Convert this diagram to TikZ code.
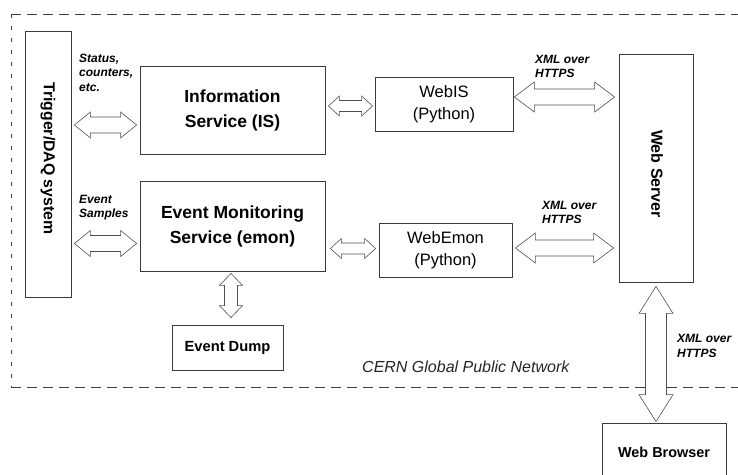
\documentclass[tikz,border=0pt]{standalone}
\usepackage{fontspec}
\setmainfont{Liberation Sans}
\usetikzlibrary{calc}
\definecolor{boxc}{HTML}{3A3A3A}
\definecolor{arrc}{HTML}{505050}
\definecolor{dashc}{HTML}{404040}
\newcommand{\hdarr}[5]{%
\draw[blockarrow] (#1) -- ($(#1)+(#5,-#4)$) -- ($(#1)+(#5,-#3)$) -- ($(#2)+(-#5,-#3)$) -- ($(#2)+(-#5,-#4)$) -- (#2) -- ($(#2)+(-#5,#4)$) -- ($(#2)+(-#5,#3)$) -- ($(#1)+(#5,#3)$) -- ($(#1)+(#5,#4)$) -- cycle;}
\newcommand{\vdarr}[5]{%
\draw[blockarrow] (#1) -- ($(#1)+(#4,#5)$) -- ($(#1)+(#3,#5)$) -- ($(#2)+(#3,-#5)$) -- ($(#2)+(#4,-#5)$) -- (#2) -- ($(#2)+(-#4,-#5)$) -- ($(#2)+(-#3,-#5)$) -- ($(#1)+(-#3,#5)$) -- ($(#1)+(-#4,#5)$) -- cycle;}
\begin{document}
\begin{tikzpicture}[x=1pt,y=-1pt,
 box/.style={draw=boxc, line width=0.8pt, fill=white, inner sep=0pt, align=center},
 blockarrow/.style={draw=arrc, line width=0.6pt, fill=white, line join=miter},
 lbl/.style={font=\fontsize{12}{14.5}\selectfont\bfseries\itshape, align=left, anchor=west, inner sep=0pt},
 bigb/.style={font=\fontsize{17.5}{25}\selectfont\bfseries},
 pyb/.style={font=\fontsize{16.5}{22}\selectfont},
 ]
\useasboundingbox (0,0) rectangle (738,474);
\clip (0,0) rectangle (738,474);
\fill[white] (0,0) rectangle (738,474);
% dashed border
\draw[dashc, line width=0.8pt, dash pattern=on 10pt off 6pt] (11,14) -- (740,14);
\draw[dashc, line width=0.8pt, dash pattern=on 10pt off 6pt] (11,387) -- (740,387);
\draw[dashc, line width=0.8pt, dash pattern=on 4pt off 8pt] (11,14) -- (11,387);
% boxes
\node[box, minimum width=46pt, minimum height=266pt] (trig) at (48,164) {};
\node[rotate=-90, font=\fontsize{15.8}{18}\selectfont\bfseries, inner sep=0pt] (trigtxt) at ($(trig.center)+(0,-5.5)$) {Trigger/DAQ system};
\node[box, bigb, minimum width=185pt, minimum height=88pt] (is) at (232.5,110) {Information\\Service (IS)};
\node[box, bigb, minimum width=185pt, minimum height=90pt] (emon) at (232.5,226) {Event Monitoring\\Service (emon)};
\node[box, font=\fontsize{14.7}{17}\selectfont\bfseries, minimum width=111pt, minimum height=45pt] (dump) at (227.5,347.5) {Event Dump};
\node[box, pyb, minimum width=138pt, minimum height=54pt] (webis) at (444,104) {WebIS\\(Python)};
\node[box, pyb, minimum width=133pt, minimum height=54pt] (webemon) at (445.5,250) {WebEmon\\(Python)};
\node[box, minimum width=74pt, minimum height=228pt] (server) at (656,168) {};
\node[rotate=-90, font=\fontsize{16}{18}\selectfont\bfseries, inner sep=0pt] (servertxt) at ($(server.center)+(1,6)$) {Web Server};
\node[box, font=\fontsize{14.4}{17}\selectfont\bfseries, minimum width=124pt, minimum height=58pt] (browser) at (664,452) {Web Browser};
% labels
\node[lbl] (l1) at (79,72.5) {Status,\\counters,\\etc.};
\node[lbl] (l2) at (79,207.5) {Event\\Samples};
\node[lbl] (l3) at (535,66.5) {XML over\\HTTPS};
\node[lbl] (l4) at (542,212.5) {XML over\\HTTPS};
\node[lbl] (l5) at (677,346) {XML over\\HTTPS};
\node[font=\fontsize{16}{18}\selectfont\itshape, text=black!85, anchor=west, inner sep=0pt] (cern) at (362,367) {CERN Global Public Network};
% block arrows
\coordinate (a1l) at ($(trig.east |- 0,125)+(3,0)$);
\coordinate (a1r) at ($(is.west |- 0,125)+(-3,0)$);
\hdarr{a1l}{a1r}{8}{13}{16}
\coordinate (a2l) at ($(trig.east |- 0,243.5)+(3,0)$);
\coordinate (a2r) at ($(emon.west |- 0,243.5)+(-3,0)$);
\hdarr{a2l}{a2r}{8}{13}{16}
\coordinate (a3l) at ($(is.east |- 0,106)+(3,0)$);
\coordinate (a3r) at ($(webis.west |- 0,106)+(-2,0)$);
\hdarr{a3l}{a3r}{5.5}{10}{11}
\coordinate (a4l) at ($(emon.east |- 0,248.5)+(5,0)$);
\coordinate (a4r) at ($(webemon.west |- 0,248.5)+(-3,0)$);
\hdarr{a4l}{a4r}{5.5}{10}{11}
\coordinate (a5l) at ($(webis.east |- 0,97)+(1,0)$);
\coordinate (a5r) at ($(server.west |- 0,97)+(-4,0)$);
\hdarr{a5l}{a5r}{8}{15}{20}
\coordinate (a6l) at ($(webemon.east |- 0,248)+(3,0)$);
\coordinate (a6r) at ($(server.west |- 0,248)+(-5,0)$);
\hdarr{a6l}{a6r}{8}{15}{20}
\coordinate (v1t) at ($(emon.south)+(-1.5,2)$);
\coordinate (v1b) at ($(v1t |- dump.north)+(0,-7)$);
\vdarr{v1t}{v1b}{6.5}{11.5}{12}
\coordinate (v2t) at ($(server.south)+(0,4)$);
\coordinate (v2b) at ($(v2t |- browser.north)+(0,-1)$);
\vdarr{v2t}{v2b}{10.5}{17}{27}
\end{tikzpicture}
\end{document}
